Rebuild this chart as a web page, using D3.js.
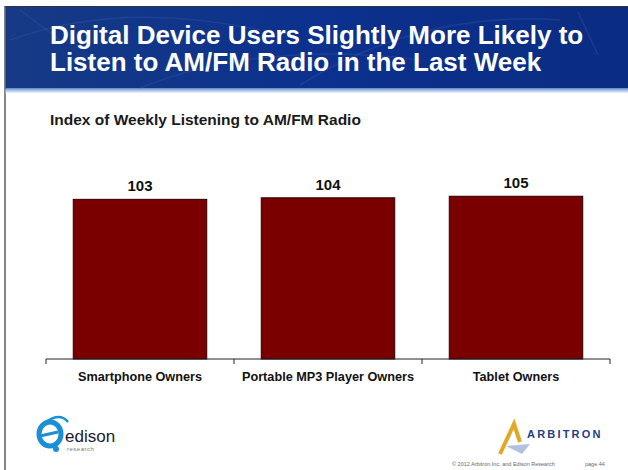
<!DOCTYPE html>
<html>
<head>
<meta charset="utf-8">
<script src="https://cdn.jsdelivr.net/npm/d3@7/dist/d3.min.js"></script>
<style>
  html, body { margin: 0; padding: 0; background: #ffffff; }
  svg { display: block; }
  text { font-family: "Liberation Sans", Arial, sans-serif; }
</style>
</head>
<body>
<svg id="chart" width="628" height="470"></svg>
<script>
// Chart data
const categories = ["Smartphone Owners", "Portable MP3 Player Owners", "Tablet Owners"];
const values = [103, 104, 105];
const titleLines = ["Digital Device Users Slightly More Likely to", "Listen to AM/FM Radio in the Last Week"];
const subtitle = "Index of Weekly Listening to AM/FM Radio";

const svg = d3.select("#chart");
const defs = svg.append("defs");

// Header gradient
const hg = defs.append("linearGradient").attr("id", "hdr").attr("x1", 0).attr("y1", 0).attr("x2", 1).attr("y2", 0);
hg.append("stop").attr("offset", "0%").attr("stop-color", "#163a85");
hg.append("stop").attr("offset", "50%").attr("stop-color", "#0c318e");
hg.append("stop").attr("offset", "100%").attr("stop-color", "#0a2c82");

const sg = defs.append("linearGradient").attr("id", "stripe").attr("x1", 0).attr("y1", 0).attr("x2", 0).attr("y2", 1);
sg.append("stop").attr("offset", "0%").attr("stop-color", "#5d86c8");
sg.append("stop").attr("offset", "50%").attr("stop-color", "#a9c4e6");
sg.append("stop").attr("offset", "100%").attr("stop-color", "#eef4fb");

// Page frame
svg.append("rect").attr("x", 0).attr("y", 0).attr("width", 628).attr("height", 470).attr("fill", "#ffffff");
svg.append("line").attr("x1", 5).attr("x2", 5).attr("y1", 6).attr("y2", 470)
  .attr("stroke", "#333").attr("stroke-width", 1.2);
svg.append("line").attr("x1", 5).attr("x2", 628).attr("y1", 6.5).attr("y2", 6.5)
  .attr("stroke", "#333").attr("stroke-width", 1);

// Header band
svg.append("rect").attr("x", 5.5).attr("y", 7).attr("width", 623).attr("height", 82).attr("fill", "url(#hdr)");
svg.append("rect").attr("x", 5.5).attr("y", 88).attr("width", 623).attr("height", 5).attr("fill", "url(#stripe)");

// Faint dial decoration in the header
const deco = svg.append("g").attr("fill", "none").attr("stroke", "#3a5aa8").attr("stroke-opacity", 0.35).attr("stroke-width", 1.5);
deco.append("path").attr("d", "M10,40 Q120,0 260,30");
deco.append("path").attr("d", "M140,88 Q260,40 420,60");
deco.append("path").attr("d", "M300,85 Q420,10 560,20");
deco.append("line").attr("x1", 578).attr("y1", 12).attr("x2", 598).attr("y2", 55);
deco.append("line").attr("x1", 20).attr("y1", 10).attr("x2", 60).attr("y2", 40);

// Title
const title = svg.append("text").attr("fill", "#ffffff").attr("font-weight", "bold").attr("font-size", 26);
titleLines.forEach((t, i) => {
  title.append("tspan").attr("x", 50).attr("y", 44 + i * 27).text(t);
});

// Subtitle
svg.append("text").attr("x", 50).attr("y", 125).attr("font-size", 15.5).attr("font-weight", "bold")
  .attr("fill", "#1a1a1a").text(subtitle);

// Scales
const x = d3.scaleBand().domain(categories).range([46, 610]).paddingInner(0.29).paddingOuter(0.145);
const y = d3.scaleLinear().domain([0, 120]).range([359, 173]);

// Bars
svg.append("g").selectAll("rect").data(values).join("rect")
  .attr("x", (d, i) => x(categories[i]))
  .attr("y", d => y(d))
  .attr("width", x.bandwidth())
  .attr("height", d => y(0) - y(d))
  .attr("fill", "#7a0000")
  .attr("stroke", "#2a0000")
  .attr("stroke-width", 1);

// Value labels
svg.append("g").selectAll("text").data(values).join("text")
  .attr("x", (d, i) => x(categories[i]) + x.bandwidth() / 2)
  .attr("y", d => y(d) - 8)
  .attr("text-anchor", "middle")
  .attr("font-size", 15).attr("font-weight", "bold").attr("fill", "#111")
  .text(d => d);

// Category axis
const axisG = svg.append("g").attr("transform", `translate(0,${y(0)})`);
axisG.append("line").attr("x1", 46).attr("x2", 610).attr("y1", 0).attr("y2", 0).attr("stroke", "#222");
const step = x.step();
const boundaries = d3.range(categories.length + 1).map(i => 46 + i * step);
axisG.selectAll("line.tick").data(boundaries).join("line").attr("class", "tick")
  .attr("x1", d => d).attr("x2", d => d).attr("y1", 0).attr("y2", 5).attr("stroke", "#222");
axisG.selectAll("text.cat").data(categories).join("text").attr("class", "cat")
  .attr("x", d => x(d) + x.bandwidth() / 2)
  .attr("y", 22)
  .attr("text-anchor", "middle")
  .attr("font-size", 12.7).attr("font-weight", "bold").attr("fill", "#111")
  .text(d => d);

// Edison Research logo
const ed = svg.append("g").attr("transform", "translate(38,418)");
ed.append("ellipse").attr("cx", 12).attr("cy", 16).attr("rx", 11).attr("ry", 12)
  .attr("fill", "none").attr("stroke", "#1b8fd6").attr("stroke-width", 5);
ed.append("path").attr("d", "M2,18 L20,14").attr("stroke", "#1b8fd6").attr("stroke-width", 3);
ed.append("path").attr("d", "M8,4 Q22,-6 30,4").attr("fill", "none").attr("stroke", "#1b8fd6").attr("stroke-width", 2.5);
ed.append("circle").attr("cx", 18).attr("cy", 31).attr("r", 3).attr("fill", "#1b8fd6");
ed.append("text").attr("x", 27).attr("y", 24).attr("font-size", 17).attr("fill", "#1a1a2e").text("edison");
ed.append("text").attr("x", 29).attr("y", 33).attr("font-size", 6).attr("fill", "#777").attr("letter-spacing", 0.5).text("research");

// Arbitron logo
const ab = svg.append("g").attr("transform", "translate(500,424)");
ab.append("path").attr("d", "M0,30 L14,0 L20,18").attr("fill", "none").attr("stroke", "#e0a826").attr("stroke-width", 4);
ab.append("path").attr("d", "M6,22 L30,20 L22,30 Z").attr("fill", "#9fb3d6").attr("opacity", 0.8);
ab.append("text").attr("x", 27).attr("y", 14).attr("font-size", 11).attr("font-weight", "bold")
  .attr("letter-spacing", 2.2).attr("fill", "#1f3f86").text("ARBITRON");
svg.append("text").attr("x", 452).attr("y", 466).attr("font-size", 5.5).attr("fill", "#666")
  .text("© 2012 Arbitron Inc. and Edison Research");
svg.append("text").attr("x", 585).attr("y", 466).attr("font-size", 5.5).attr("fill", "#666")
  .text("page 44");
</script>
</body>
</html>
